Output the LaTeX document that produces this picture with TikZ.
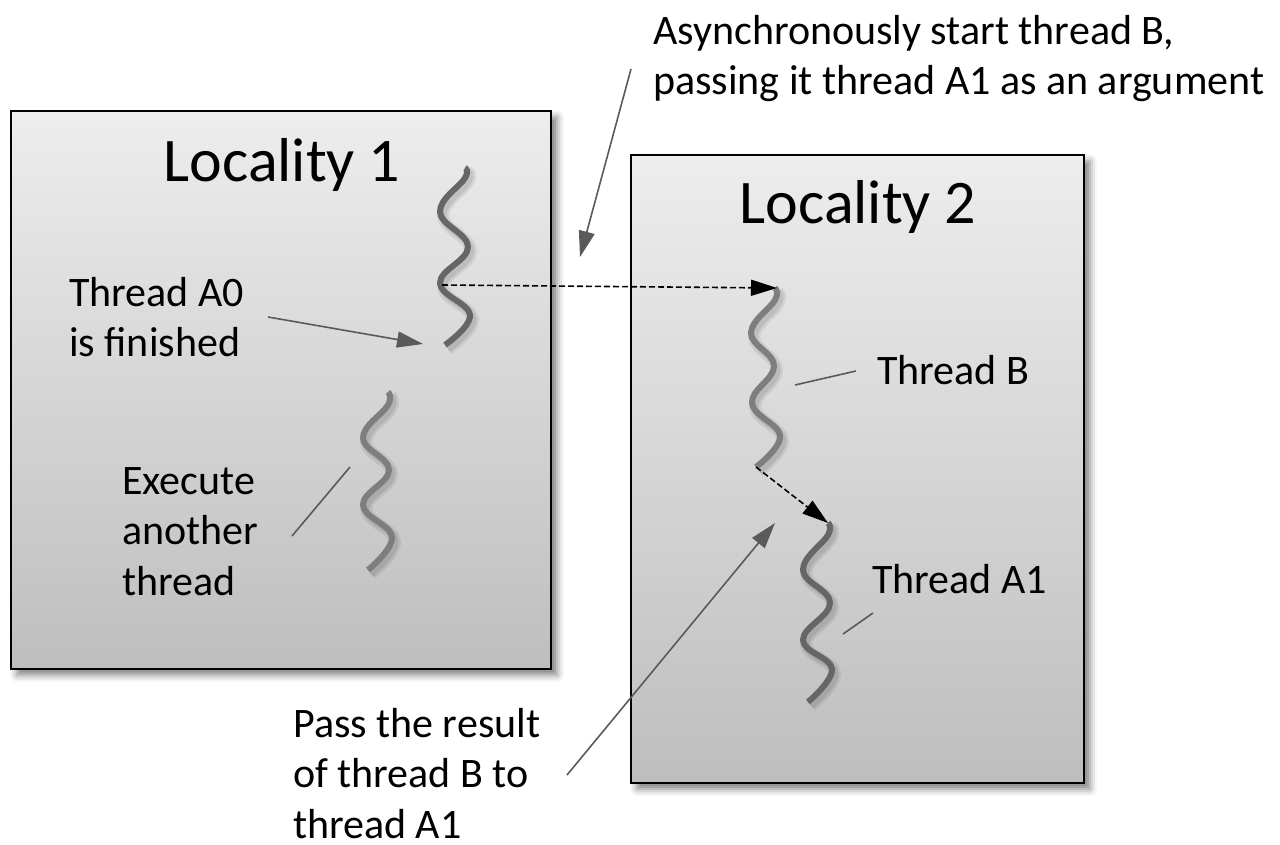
\documentclass[tikz,border=0pt]{standalone}
\usepackage{fontspec}
\setmainfont{Carlito}
\usetikzlibrary{arrows.meta,shadows.blur}
\definecolor{boxtop}{HTML}{EDEDED}
\definecolor{boxbot}{HTML}{BEBEBE}
\definecolor{thrdark}{HTML}{666666}
\definecolor{thrlight}{HTML}{7E7E7E}
\definecolor{ptr}{HTML}{5A5A5A}
\begin{document}
\begin{tikzpicture}[x=1pt,y=-1pt,
  locbox/.style={draw=black, line width=2.5pt, rectangle, inner sep=0pt,
    top color=boxtop, bottom color=boxbot,
    blur shadow={shadow xshift=6pt, shadow yshift=-6pt, shadow blur radius=7pt, shadow opacity=50}},
  title/.style={font=\fontsize{62}{74}\selectfont, inner sep=0pt, anchor=base},
  lbl/.style={font=\fontsize{42}{50.5}\selectfont, inner sep=0pt, anchor=north west, align=left},
  slbl/.style={font=\fontsize{42}{51}\selectfont, inner sep=0pt, anchor=base west},
  thr/.style={line width=6pt, line join=round, draw=thrdark,
    preaction={draw=black, draw opacity=0.07, line width=12pt, transform canvas={shift={(3pt,-4pt)}}},
    preaction={draw=black, draw opacity=0.09, line width=7pt, transform canvas={shift={(3pt,-4pt)}}}},
  thrl/.style={thr, draw=thrlight},
  ptrline/.style={draw=ptr, line width=1.6pt},
  ptrarrow/.style={ptrline, -{Triangle[length=26pt,width=16pt]}},
  dasharrow/.style={draw=black, line width=1.6pt, dash pattern=on 6pt off 3pt,
    -{Triangle[length=26pt,width=16pt]}},
]
\useasboundingbox (0,0) rectangle (1280,845);

% locality boxes
\node[locbox, minimum width=540pt, minimum height=558pt] (loc1) at (281,390) {};
\node[locbox, minimum width=453pt, minimum height=628pt] (loc2) at (857.5,469) {};
\node[title] (loc1title) at (282,182) {Locality 1};
\node[title] (loc2title) at (858,224) {Locality 2};

% threads
\draw[thr] plot[smooth, tension=0.7] coordinates
  {(465,168) (465,178) (440,212) (468,247) (440,283) (470,315) (445,345)};
\draw[thrl] plot[smooth, tension=0.7] coordinates
  {(388,392) (388,405) (363,438) (389,470) (363,505) (392,537) (368,570)};
\draw[thrl] plot[smooth, tension=0.7] coordinates
  {(775,288) (775,300) (751,333) (774,366) (752,403) (780,436) (756,467)};
\draw[thr] plot[smooth, tension=0.7] coordinates
  {(828,523) (828,535) (803,570) (830,603) (803,640) (832,669) (808,702)};

\coordinate (a0mid) at (442,285);
\coordinate (btop) at (777,288);
\coordinate (bend) at (756,467);
\coordinate (a1top) at (828,523);

% dashed arrows
\draw[dasharrow] (a0mid) -- (btop);
\draw[dasharrow] (bend) -- (a1top);

% labels
\node[lbl] (asynclbl) at (653,10) {\rule{0pt}{34pt}Asynchronously start thread B,\\passing it thread A1 as an argument};
\node[lbl] (a0lbl) at (69,272) {\rule{0pt}{34pt}Thread A0\\is finished};
\node[lbl] (execlbl) at (122,460) {\rule{0pt}{34pt}Execute\\another\\thread};
\node[slbl] (blbl) at (877,384) {Thread B};
\node[slbl] (a1lbl) at (872,593) {Thread A1};
\node[lbl] (passlbl) at (293,703) {\rule{0pt}{34pt}Pass the result\\of thread B to\\thread A1};

% pointer ends
\coordinate (asyncfrom) at (631,69);
\coordinate (asyncto) at (580,257);
\coordinate (a0from) at (268,317);
\coordinate (a0to) at (423,344);
\coordinate (execfrom) at (292,536);
\coordinate (execto) at (350,467);
\coordinate (bfrom) at (856,371);
\coordinate (bto) at (795,385);
\coordinate (a1from) at (873,613);
\coordinate (a1to) at (843,634);
\coordinate (passfrom) at (567,775);
\coordinate (passto) at (775,523);

\draw[ptrarrow] (asyncfrom) -- (asyncto);
\draw[ptrarrow] (a0from) -- (a0to);
\draw[ptrline] (execfrom) -- (execto);
\draw[ptrline] (bfrom) -- (bto);
\draw[ptrline] (a1from) -- (a1to);
\draw[ptrarrow] (passfrom) -- (passto);
\end{tikzpicture}
\end{document}
